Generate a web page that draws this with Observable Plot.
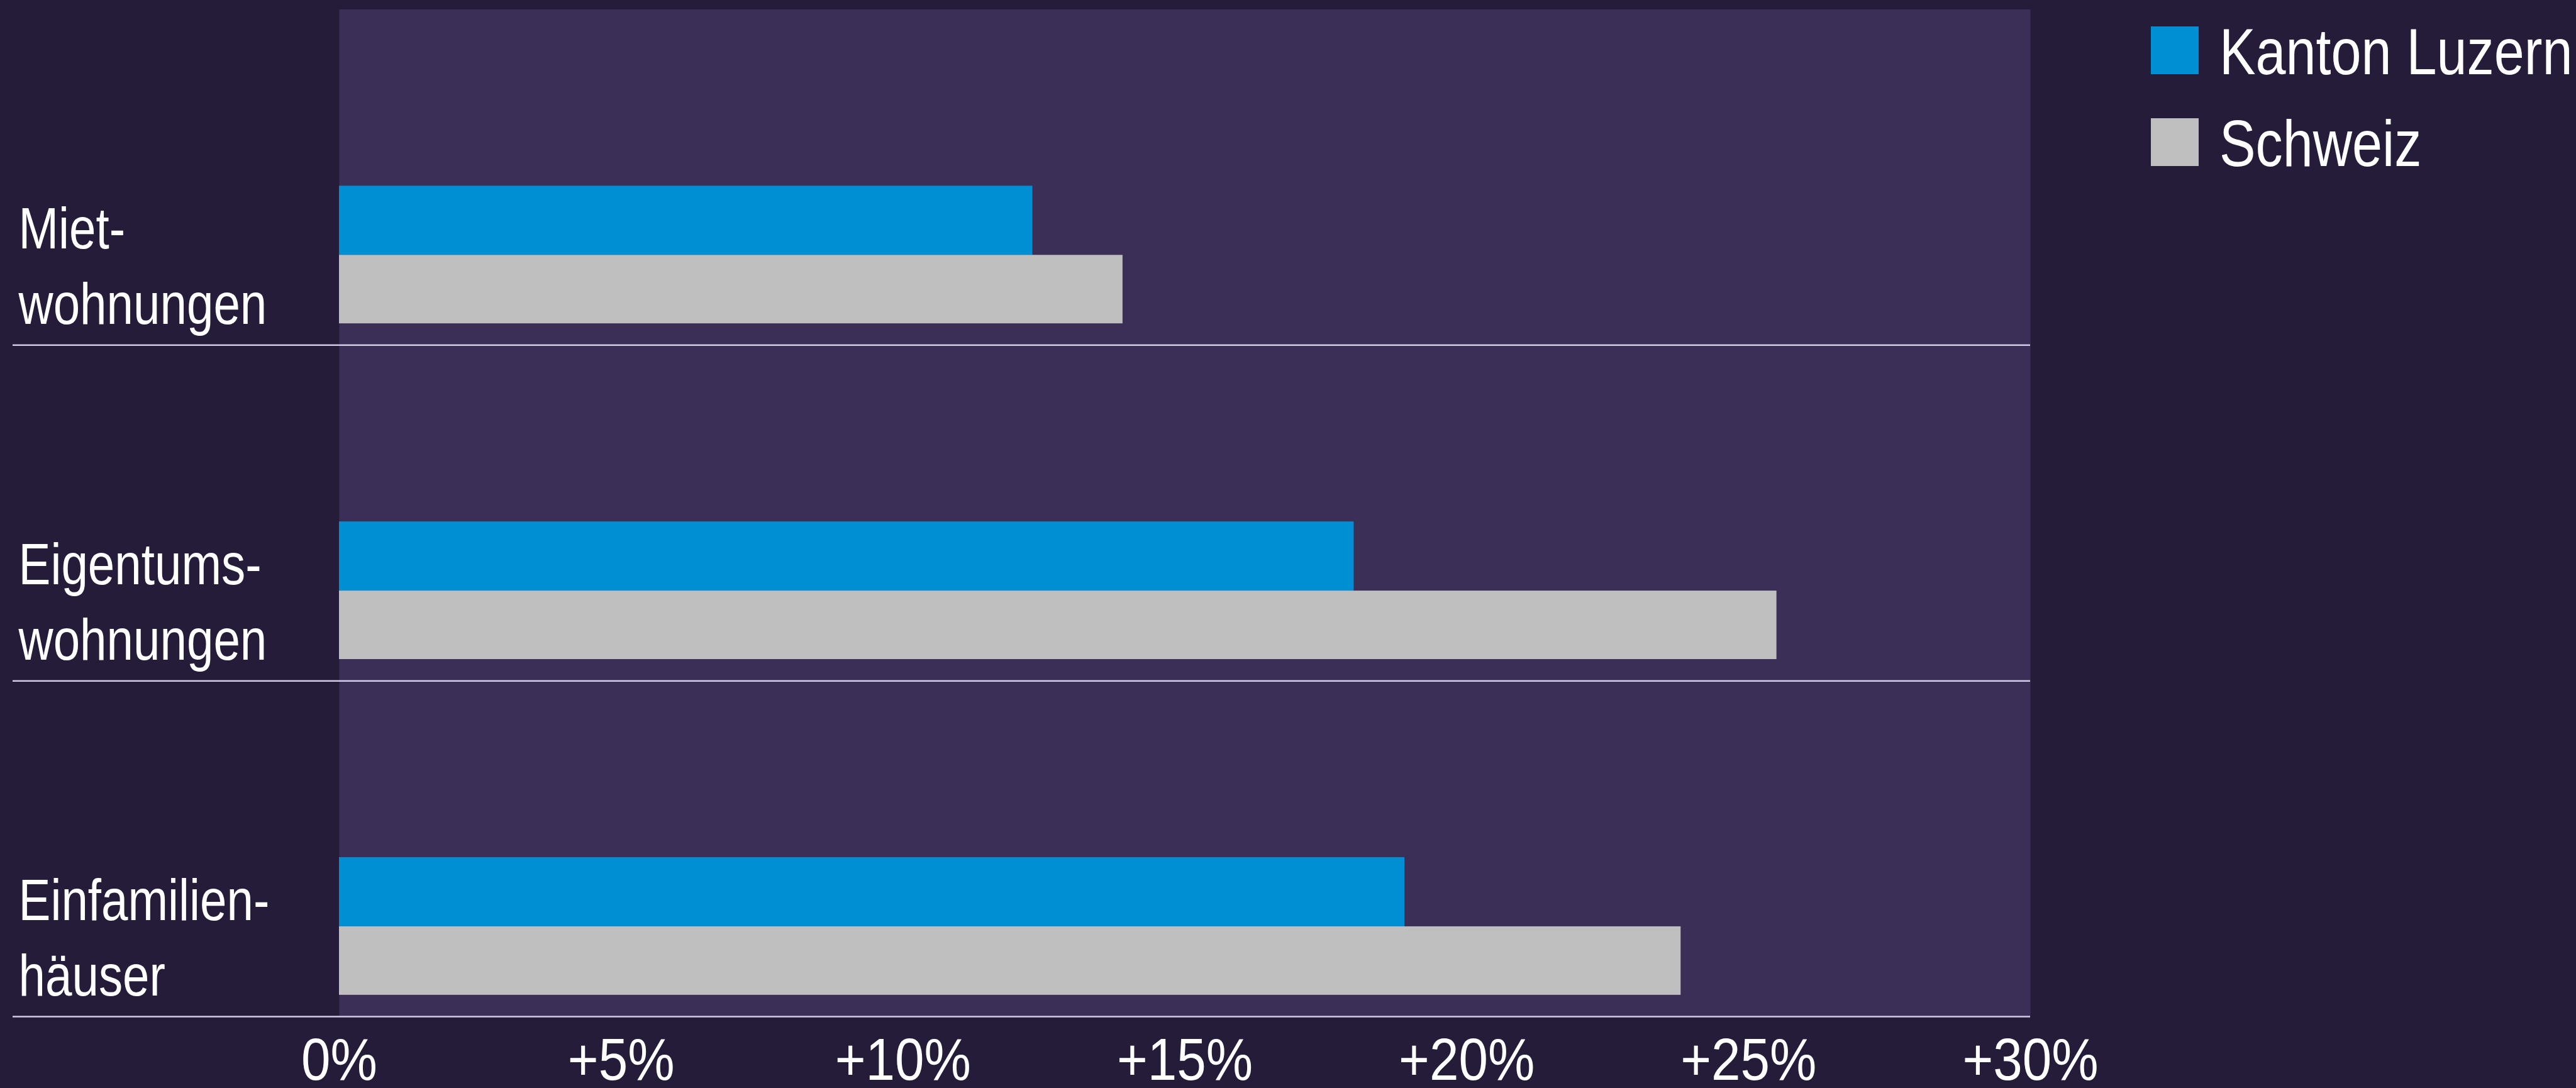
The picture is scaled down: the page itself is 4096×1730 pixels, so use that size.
<!DOCTYPE html>
<html><head><meta charset="utf-8">
<script src="https://cdn.jsdelivr.net/npm/d3@7"></script>
<script src="https://cdn.jsdelivr.net/npm/@observablehq/plot@0.6"></script>
<style>
html,body{margin:0;padding:0;background:#251c3a;width:4096px;height:1730px;overflow:hidden;}
#wrap{position:relative;width:4096px;height:1730px;font-family:'Liberation Sans',Arial,sans-serif;color:#fff;}
#wrap svg{position:absolute;left:0;top:0;}
.sw{position:absolute;width:76px;height:76px;}
.lt{position:absolute;font-size:104px;line-height:1;white-space:nowrap;color:#fff;transform:scaleX(0.83);transform-origin:0 0;}
</style></head><body><div id="wrap"></div>
<script>
const categories = ["Miet-\nwohnungen", "Eigentums-\nwohnungen", "Einfamilien-\nhäuser"];
const series = ["Kanton Luzern", "Schweiz"];
const luzern = [12.3, 18.0, 18.9];
const schweiz = [13.9, 25.5, 23.8];
const tickValues = [0, 5, 10, 15, 20, 25, 30];
const tickLabels = ["0%", "+5%", "+10%", "+15%", "+20%", "+25%", "+30%"];
const colors = ["#008fd3", "#bfbfbf"];

const W = 4096, H = 1730, mL = 539, mR = 868, mT = 14.5, mB = 114;
const bw = (H - mT - mB) / categories.length;
const font = "'Liberation Sans',Arial,sans-serif";
const narrow = 0.83, narrowTicks = 0.88;

const rowsL = categories.map((c, i) => ({category: c, value: luzern[i]}));
const rowsS = categories.map((c, i) => ({category: c, value: schweiz[i]}));

const chart = Plot.plot({
  width: W, height: H,
  marginLeft: mL, marginRight: mR, marginTop: mT, marginBottom: mB,
  style: {background: "transparent", color: "#fff", fontFamily: font, overflow: "visible"},
  x: {domain: [0, 30], axis: null, label: null},
  y: {domain: categories, type: "band", padding: 0, round: false, axis: null, label: null},
  marks: [
    Plot.frame({fill: "#3b2f57", stroke: "none"}),
    Plot.barX(rowsL, {x: "value", y: "category", fill: colors[0], insetTop: bw * 0.526, insetBottom: bw * 0.268}),
    Plot.barX(rowsS, {x: "value", y: "category", fill: colors[1], insetTop: bw * 0.732, insetBottom: bw * 0.064}),
    Plot.ruleY(categories, {y: d => d, dy: bw / 2, insetLeft: -(mL - 20), stroke: "#d2cbe8", strokeWidth: 2.5}),
    Plot.text(categories, {y: d => d, text: d => d, frameAnchor: "left", textAnchor: "start", lineAnchor: "bottom",
      lineHeight: 1.3, dx: 29 - mL, dy: 233, fontSize: 92, fill: "#fff", className: "cat-label"}),
    Plot.axisX({ticks: tickValues, tickFormat: d => tickLabels[tickValues.indexOf(d)], tickSize: 0, tickPadding: 33,
      fontSize: 95, fill: "#fff", stroke: "none", label: null})
  ]
});
// condense the text horizontally around each label's anchor
d3.select(chart).selectAll("text").each(function () {
  const t = this.getAttribute("transform");
  const isCat = this.closest(".cat-label") != null;
  if (t) this.setAttribute("transform", t + ` scale(${isCat ? narrow : narrowTicks},1)`);
});
const wrap = document.getElementById("wrap");
wrap.appendChild(chart);

// legend
const legTops = [42, 188];
series.forEach((s, i) => {
  const sw = document.createElement("div");
  sw.className = "sw";
  sw.style.left = "3420px";
  sw.style.top = legTops[i] + "px";
  sw.style.background = colors[i];
  wrap.appendChild(sw);
  const t = document.createElement("div");
  t.className = "lt";
  t.style.left = "3529px";
  t.style.top = (legTops[i] + 76 - 88) + "px";
  t.textContent = s;
  wrap.appendChild(t);
});
</script></body></html>
